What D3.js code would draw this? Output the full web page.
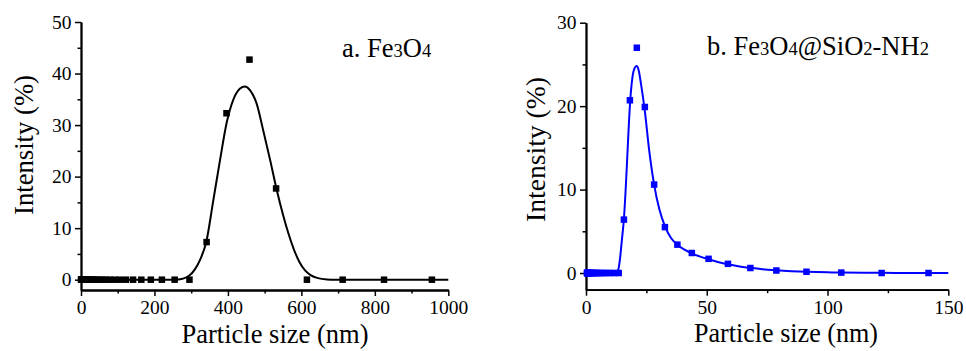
<!DOCTYPE html>
<html>
<head>
<meta charset="utf-8">
<script src="https://cdn.jsdelivr.net/npm/d3@7"></script>
<style>
  html, body { margin: 0; padding: 0; background: #fff; }
  svg { display: block; }
</style>
</head>
<body>
<svg id="chart" width="966" height="351"></svg>
<script>
const serif = 'Liberation Serif';

// DLS size classes (nm)
const sizeBins = [0.4, 0.4632, 0.5365, 0.6213, 0.7195, 0.8332, 0.9649, 1.117, 1.294, 1.499,
  1.736, 2.010, 2.328, 2.696, 3.122, 3.615, 4.187, 4.849, 5.615, 6.503,
  7.531, 8.721, 10.10, 11.70, 13.54, 15.69, 18.17, 21.04, 24.36, 28.21,
  32.67, 37.84, 43.82, 50.75, 58.77, 68.06, 78.82, 91.28, 105.7, 122.4,
  141.8, 164.2, 190.1, 220.2, 255.0, 295.3, 342.0, 396.1, 458.7, 531.2,
  615.1, 712.4, 825.0, 955.4];

// a. Fe3O4 (bins 1..54)
const fe3o4Intensity = [0, 0, 0, 0, 0, 0, 0, 0, 0, 0,
  0, 0, 0, 0, 0, 0, 0, 0, 0, 0,
  0, 0, 0, 0, 0, 0, 0, 0, 0, 0,
  0, 0, 0, 0, 0, 0, 0, 0, 0, 0,
  0, 0, 0, 0, 0, 0, 7.3, 32.3, 42.7, 17.7,
  0, 0, 0, 0];

// b. Fe3O4@SiO2-NH2 (bins 1..41)
const aminoIntensity = [0, 0, 0, 0, 0, 0, 0, 0, 0, 0,
  0, 0, 0, 0, 0, 0, 0, 0, 0, 0,
  0, 0, 0, 0, 0, 6.4, 20.7, 27.0, 19.9, 10.6,
  5.5, 3.4, 2.4, 1.7, 1.1, 0.6, 0.3, 0.15, 0.05, 0,
  0];

// fitted curves
const fitA_x = [0, 250, 265, 280, 295, 310, 325, 341, 360, 378, 397, 415, 433, 446, 460, 478, 496, 515, 533, 550, 565, 580, 595, 610, 625, 645, 670, 690, 1000];
const fitA_y = [0, 0, 0.05, 0.25, 0.8, 2.0, 4.0, 7.3, 15.3, 23.0, 30.6, 35.0, 37.1, 37.5, 36.8, 34.2, 29.0, 23.2, 17.4, 12.6, 8.9, 5.8, 3.4, 1.8, 0.9, 0.3, 0.05, 0, 0];

const fitB_x = [0, 12.8, 13.3, 14.0, 14.8, 15.7, 16.6, 17.4, 18.2, 19.2, 20.2, 21.0, 21.8, 22.8, 24.4, 26.2, 28.2, 30.4, 32.7, 35.2, 37.8, 40.8, 43.8, 47.0, 50.8, 55.0, 58.8, 63.0, 68.0, 73.0, 78.8, 85.0, 91.3, 100, 105.7, 115, 122.4, 135, 150];
const fitB_y = [0, 0, 0.3, 1.5, 3.8, 6.5, 11.0, 15.8, 20.2, 23.4, 24.6, 24.8, 24.3, 22.6, 19.3, 14.6, 10.6, 7.6, 5.6, 4.2, 3.4, 2.8, 2.35, 2.0, 1.65, 1.3, 1.05, 0.82, 0.62, 0.45, 0.32, 0.22, 0.15, 0.08, 0.05, 0.03, 0.02, 0.01, 0];

const xTicksA = [0, 200, 400, 600, 800, 1000];
const xMinorA = [100, 300, 500, 700, 900];
const yTicksA = [0, 10, 20, 30, 40, 50];
const yMinorA = [5, 15, 25, 35, 45];
const xTicksB = [0, 50, 100, 150];
const xMinorB = [25, 75, 125];
const yTicksB = [0, 10, 20, 30];
const yMinorB = [5, 15, 25];

const svg = d3.select('#chart');
svg.append('rect').attr('width', 966).attr('height', 351).attr('fill', '#fff');

function drawPanel(p) {
  const g = svg.append('g').attr('font-family', serif);
  const x = d3.scaleLinear().domain(p.xDomain).range(p.xRange);
  const y = d3.scaleLinear().domain(p.yDomain).range(p.yRange);

  // minor ticks
  g.append('g')
    .attr('transform', `translate(0,${p.yRange[0]})`)
    .call(d3.axisBottom(x).tickValues(p.xMinor).tickSize(3.5).tickFormat('').tickSizeOuter(0));
  g.append('g')
    .attr('transform', `translate(${p.xRange[0]},0)`)
    .call(d3.axisLeft(y).tickValues(p.yMinor).tickSize(3.5).tickFormat('').tickSizeOuter(0));

  // major ticks
  g.append('g')
    .attr('transform', `translate(0,${p.yRange[0]})`)
    .call(d3.axisBottom(x).tickValues(p.xTicks).tickFormat(d3.format('d')).tickSize(6).tickPadding(4).tickSizeOuter(0));
  g.append('g')
    .attr('transform', `translate(${p.xRange[0]},0)`)
    .call(d3.axisLeft(y).tickValues(p.yTicks).tickFormat(d3.format('d')).tickSize(6).tickPadding(3.5).tickSizeOuter(0));

  g.selectAll('.domain').attr('stroke', '#000').attr('stroke-width', 1.8);
  g.selectAll('.tick line').attr('stroke', '#000').attr('stroke-width', 1.5);
  g.selectAll('g').attr('font-family', serif);
  g.selectAll('.tick text')
    .attr('font-family', serif)
    .attr('font-size', 19.5)
    .attr('fill', '#000');

  // fitted curve
  const line = d3.line()
    .x((d, i) => x(p.fitX[i]))
    .y(d => y(d))
    .curve(d3.curveMonotoneX);
  g.append('path')
    .datum(p.fitY)
    .attr('d', line)
    .attr('fill', 'none')
    .attr('stroke', p.color)
    .attr('stroke-width', 2);

  // measured points
  const s = 6.5;
  g.selectAll('rect.pt')
    .data(p.values)
    .enter()
    .append('rect')
    .attr('class', 'pt')
    .attr('x', (d, i) => x(sizeBins[i]) - s / 2)
    .attr('y', d => y(d) - s / 2)
    .attr('width', s)
    .attr('height', s)
    .attr('fill', p.color);

  // axis titles
  g.append('text')
    .attr('x', p.xTitle[0])
    .attr('y', p.xTitle[1])
    .attr('text-anchor', 'middle')
    .attr('textLength', p.xTitle[2])
    .attr('lengthAdjust', 'spacingAndGlyphs')
    .attr('font-size', 26.5)
    .text('Particle size (nm)');

  g.append('text')
    .attr('transform', `translate(${p.yTitle[0]},${p.yTitle[1]}) rotate(-90)`)
    .attr('text-anchor', 'middle')
    .attr('textLength', p.yTitle[2])
    .attr('lengthAdjust', 'spacingAndGlyphs')
    .attr('font-size', 27)
    .text('Intensity (%)');

  // sample label
  const lab = g.append('text')
    .attr('x', p.label.x)
    .attr('y', p.label.y)
    .attr('font-size', 26.5);
  p.label.parts.forEach(([t, small]) => {
    lab.append('tspan').attr('font-size', small ? 18.5 : 26.5).text(t);
  });
}

drawPanel({
  xDomain: [0, 1000], xRange: [81, 448.3],
  yDomain: [-2, 50], yRange: [290, 22],
  xTicks: xTicksA, xMinor: xMinorA, yTicks: yTicksA, yMinor: yMinorA,
  fitX: fitA_x, fitY: fitA_y, values: fe3o4Intensity, color: '#000',
  xTitle: [275, 343, 187], yTitle: [33, 145, 140],
  label: { x: 342, y: 57, parts: [['a. Fe', false], ['3', true], ['O', false], ['4', true]] }
});

drawPanel({
  xDomain: [0, 150], xRange: [586, 948.3],
  yDomain: [-2, 30], yRange: [289.7, 22.7],
  xTicks: xTicksB, xMinor: xMinorB, yTicks: yTicksB, yMinor: yMinorB,
  fitX: fitB_x, fitY: fitB_y, values: aminoIntensity, color: '#0000ff',
  xTitle: [786, 342, 184], yTitle: [545, 149.5, 145],
  label: { x: 707, y: 55, parts: [['b. Fe', false], ['3', true], ['O', false], ['4', true], ['@SiO', false], ['2', true], ['-NH', false], ['2', true]] }
});
</script>
</body>
</html>
